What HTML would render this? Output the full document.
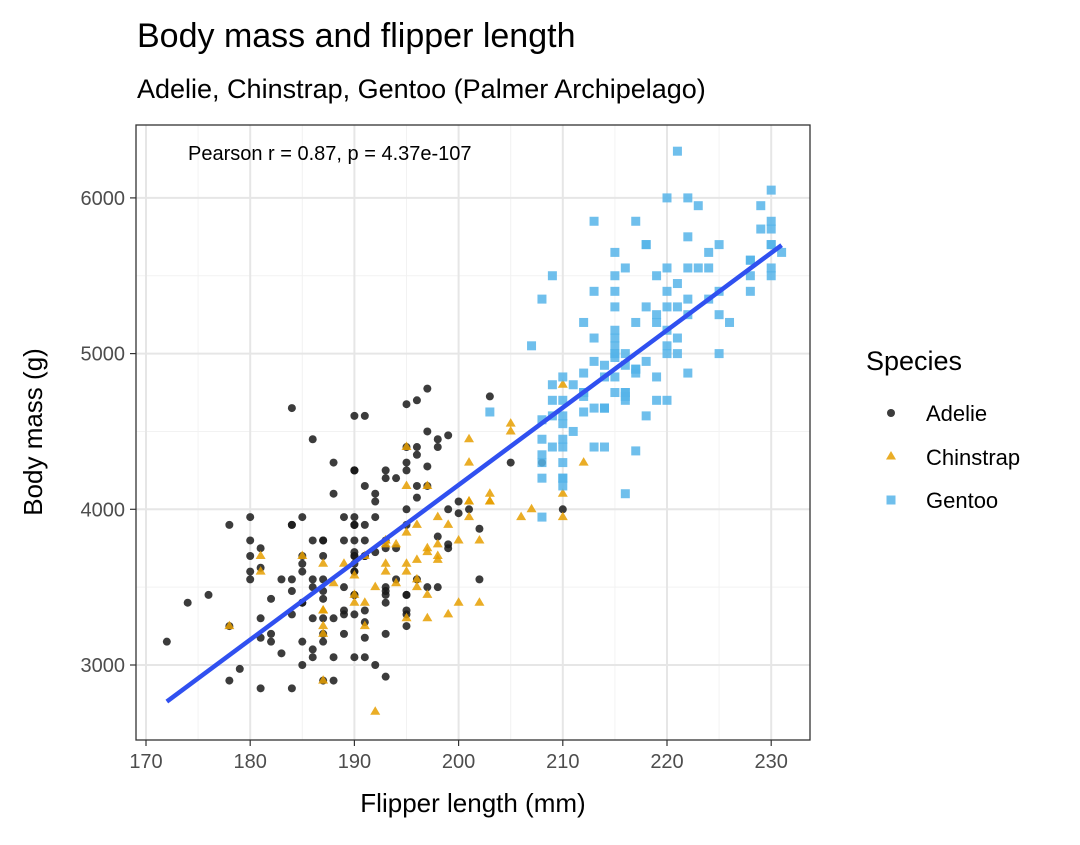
<!DOCTYPE html>
<html><head><meta charset="utf-8"><style>
body{margin:0;background:#fff;font-family:"Liberation Sans",Arial,sans-serif}
svg text{font-family:"Liberation Sans",Arial,sans-serif}
</style></head><body>
<svg id="c" width="1080" height="840" xmlns="http://www.w3.org/2000/svg">
<text x="137" y="47" font-size="34" fill="#000">Body mass and flipper length</text>
<text x="137" y="98" font-size="27" fill="#000">Adelie, Chinstrap, Gentoo (Palmer Archipelago)</text>
<g id="grid"></g>
<g id="pts"></g>
<g id="fit"></g>
<rect x="136" y="125" width="674" height="615" fill="none" stroke="#333" stroke-width="1.3"/>
<text x="188" y="160" font-size="20" fill="#000">Pearson r = 0.87, p = 4.37e-107</text>
<g id="axes"></g>
<text x="473" y="812" font-size="26" text-anchor="middle" fill="#000">Flipper length (mm)</text>
<text transform="translate(42,432) rotate(-90)" font-size="26" text-anchor="middle" fill="#000">Body mass (g)</text>
<g>
<text x="866" y="370" font-size="27" fill="#000">Species</text>
<g><circle cx="891" cy="413" r="4" fill="#1a1a1a" opacity="0.85"/><text x="926" y="421" font-size="22">Adelie</text></g>
<g><path d="M891,451 l5,8.5 h-10z" fill="#E69F00" opacity="0.85"/><text x="926" y="465" font-size="22">Chinstrap</text></g>
<g><rect x="886.5" y="495.5" width="9" height="9" fill="#56B4E9" opacity="0.85"/><text x="926" y="508" font-size="22">Gentoo</text></g>
</g>
</svg>
<script>
const xTicks=[170,180,190,200,210,220,230];
const yTicks=[3000,4000,5000,6000];
const adelie=[[181,3750],[186,3800],[195,3250],[193,3450],[190,3650],[181,3625],[195,4675],[193,3475],[190,4250],[186,3300],[180,3700],[182,3200],[191,3800],[198,4400],[185,3700],[195,3450],[197,4500],[184,3325],[194,4200],[174,3400],[180,3600],[189,3800],[185,3950],[180,3800],[187,3800],[183,3550],[187,3200],[172,3150],[180,3950],[178,3250],[178,3900],[188,3300],[184,3900],[195,3325],[196,4150],[190,3950],[180,3550],[181,3300],[184,4650],[182,3150],[195,3900],[186,3100],[196,4400],[185,3000],[190,4600],[182,3425],[179,2975],[190,3450],[191,4150],[186,3500],[188,4300],[190,3450],[200,4050],[187,2900],[191,3700],[186,3550],[193,3800],[181,2850],[194,3750],[185,3150],[195,4400],[185,3600],[192,4050],[184,2850],[192,3950],[195,3350],[188,4100],[190,3050],[198,4450],[190,3600],[190,3900],[196,3550],[197,4150],[190,3700],[195,4250],[191,3700],[184,3900],[187,3550],[195,4000],[189,3200],[196,4700],[187,3800],[193,4200],[191,3350],[194,3550],[190,3800],[189,3500],[189,3950],[190,3600],[202,3550],[205,4300],[185,3400],[186,4450],[187,3300],[208,4300],[190,3700],[196,4350],[178,2900],[192,4100],[192,3725],[203,4725],[183,3075],[190,4250],[193,2925],[184,3550],[199,3750],[190,3900],[181,3175],[197,4775],[198,3825],[191,4600],[193,3200],[197,4275],[191,3900],[196,4075],[188,2900],[199,3775],[189,3350],[189,3325],[187,3150],[198,3500],[176,3450],[202,3875],[186,3050],[199,4000],[191,3275],[195,4300],[191,3050],[210,4000],[190,3325],[197,3500],[193,3500],[199,4475],[187,3425],[190,3900],[191,3175],[200,3975],[185,3400],[193,4250],[193,3400],[187,3475],[188,3050],[190,3725],[192,3000],[185,3650],[190,4250],[184,3475],[195,3450],[193,3750],[187,3700],[201,4000]];
const chinstrap=[[192,3500],[196,3900],[193,3650],[188,3525],[197,3725],[198,3950],[178,3250],[197,3750],[195,4150],[198,3700],[193,3800],[194,3775],[185,3700],[201,4050],[190,3575],[201,4050],[197,3300],[181,3700],[190,3450],[195,4400],[181,3600],[191,3400],[187,2900],[193,3800],[195,3300],[197,4150],[200,3400],[200,3800],[191,3700],[205,4550],[187,3200],[201,4300],[187,3350],[203,4100],[195,3600],[199,3900],[195,3850],[210,4800],[192,2700],[205,4500],[210,3950],[187,3650],[196,3550],[196,3500],[196,3675],[201,4450],[190,3400],[212,4300],[187,3250],[198,3675],[199,3325],[201,3950],[193,3600],[203,4050],[187,3350],[197,3450],[191,3250],[203,4050],[202,3800],[194,3525],[206,3950],[189,3650],[195,3650],[207,4000],[202,3400],[193,3775],[210,4100],[198,3775]];
const gentoo=[[211,4500],[230,5700],[210,4450],[218,5700],[215,5400],[210,4550],[211,4800],[219,5200],[209,4400],[215,5150],[214,4650],[216,5550],[214,4650],[213,5850],[210,4200],[217,5850],[210,4150],[221,6300],[209,4800],[222,5350],[218,5700],[215,5000],[213,4400],[215,5050],[215,5000],[215,5100],[216,4100],[215,5650],[210,4600],[220,5550],[222,5250],[209,4700],[207,5050],[230,6050],[220,5150],[220,5400],[213,4950],[219,5250],[208,4350],[208,5350],[208,3950],[225,5700],[210,4300],[216,4750],[222,5550],[217,4900],[210,4200],[225,5400],[213,5100],[215,5300],[210,4850],[220,5300],[210,4400],[225,5000],[217,4900],[220,5050],[208,4300],[220,5000],[208,4450],[224,5550],[208,4200],[221,5300],[214,4400],[231,5650],[219,4700],[230,5700],[214,4650],[229,5800],[220,4700],[223,5550],[216,4750],[221,5000],[221,5100],[217,5200],[216,4700],[230,5800],[209,4600],[220,6000],[215,4750],[223,5950],[212,4625],[221,5450],[212,4725],[224,5350],[212,4750],[228,5600],[218,4600],[218,5300],[212,4875],[230,5550],[218,4950],[228,5400],[212,4750],[224,5650],[214,4850],[226,5200],[216,4925],[222,4875],[203,4625],[225,5250],[219,4850],[228,5600],[215,4975],[228,5500],[216,4725],[215,5500],[210,4700],[219,5500],[208,4575],[209,5500],[216,5000],[229,5950],[213,4650],[230,5500],[217,4375],[230,5850],[217,4875],[222,6000],[214,4925],[215,4850],[222,5750],[212,5200],[213,5400]];
const NS='http://www.w3.org/2000/svg';
const X=v=>146+(v-170)*10.42;
const Y=v=>665-(v-3000)*0.1557;
function mk(tag,attrs,parent){const e=document.createElementNS(NS,tag);for(const k in attrs)e.setAttribute(k,attrs[k]);document.getElementById(parent).appendChild(e);return e;}
// grid
[175,185,195,205,215,225].forEach(v=>{const l=mk('line',{x1:X(v),x2:X(v),y1:125,y2:740,stroke:'#f2f2f2','stroke-width':1},'grid');});
[2500+100,3500,4500,5500,6500-100].slice(1,4).forEach(v=>{const l=mk('line',{x1:136,x2:810,y1:Y(v),y2:Y(v),stroke:'#f2f2f2','stroke-width':1},'grid');});
xTicks.forEach(v=>{const l=mk('line',{x1:X(v),x2:X(v),y1:125,y2:740,stroke:'#e6e6e6','stroke-width':2},'grid');
const t=mk('line',{x1:X(v),x2:X(v),y1:740,y2:746,stroke:'#333','stroke-width':1.2},'axes');
const tx=mk('text',{x:X(v),y:768,'font-size':20,fill:'#4d4d4d','text-anchor':'middle'},'axes');tx.textContent=v;});
yTicks.forEach(v=>{const l=mk('line',{x1:136,x2:810,y1:Y(v),y2:Y(v),stroke:'#e6e6e6','stroke-width':2},'grid');
const t=mk('line',{x1:130,x2:136,y1:Y(v),y2:Y(v),stroke:'#333','stroke-width':1.2},'axes');
const tx=mk('text',{x:125,y:Y(v)+7,'font-size':20,fill:'#4d4d4d','text-anchor':'end'},'axes');tx.textContent=v;});
// points
adelie.forEach(d=>{const e=mk('circle',{cx:X(d[0]),cy:Y(d[1]),r:4,fill:'#1a1a1a','fill-opacity':0.85},'pts');});
chinstrap.forEach(d=>{const x=X(d[0]),y=Y(d[1]);const e=mk('path',{d:`M${x},${y-5.5} l5,8.5 h-10z`,fill:'#E69F00','fill-opacity':0.85},'pts');});
gentoo.forEach(d=>{const e=mk('rect',{x:X(d[0])-4.5,y:Y(d[1])-4.5,width:9,height:9,fill:'#56B4E9','fill-opacity':0.85},'pts');});
// regression
const all=adelie.concat(chinstrap,gentoo);
const n=all.length;let mx=0,my=0;all.forEach(d=>{mx+=d[0];my+=d[1];});mx/=n;my/=n;
let sxy=0,sxx=0;all.forEach(d=>{sxy+=(d[0]-mx)*(d[1]-my);sxx+=(d[0]-mx)**2;});
const b=sxy/sxx,a=my-b*mx;
const xs=all.map(d=>d[0]);const x0=Math.min(...xs),x1=Math.max(...xs);
const fl=mk('line',{x1:X(x0),y1:Y(a+b*x0),x2:X(x1),y2:Y(a+b*x1),stroke:'#3050f0','stroke-width':4.5},'fit');


</script>
</body></html>
